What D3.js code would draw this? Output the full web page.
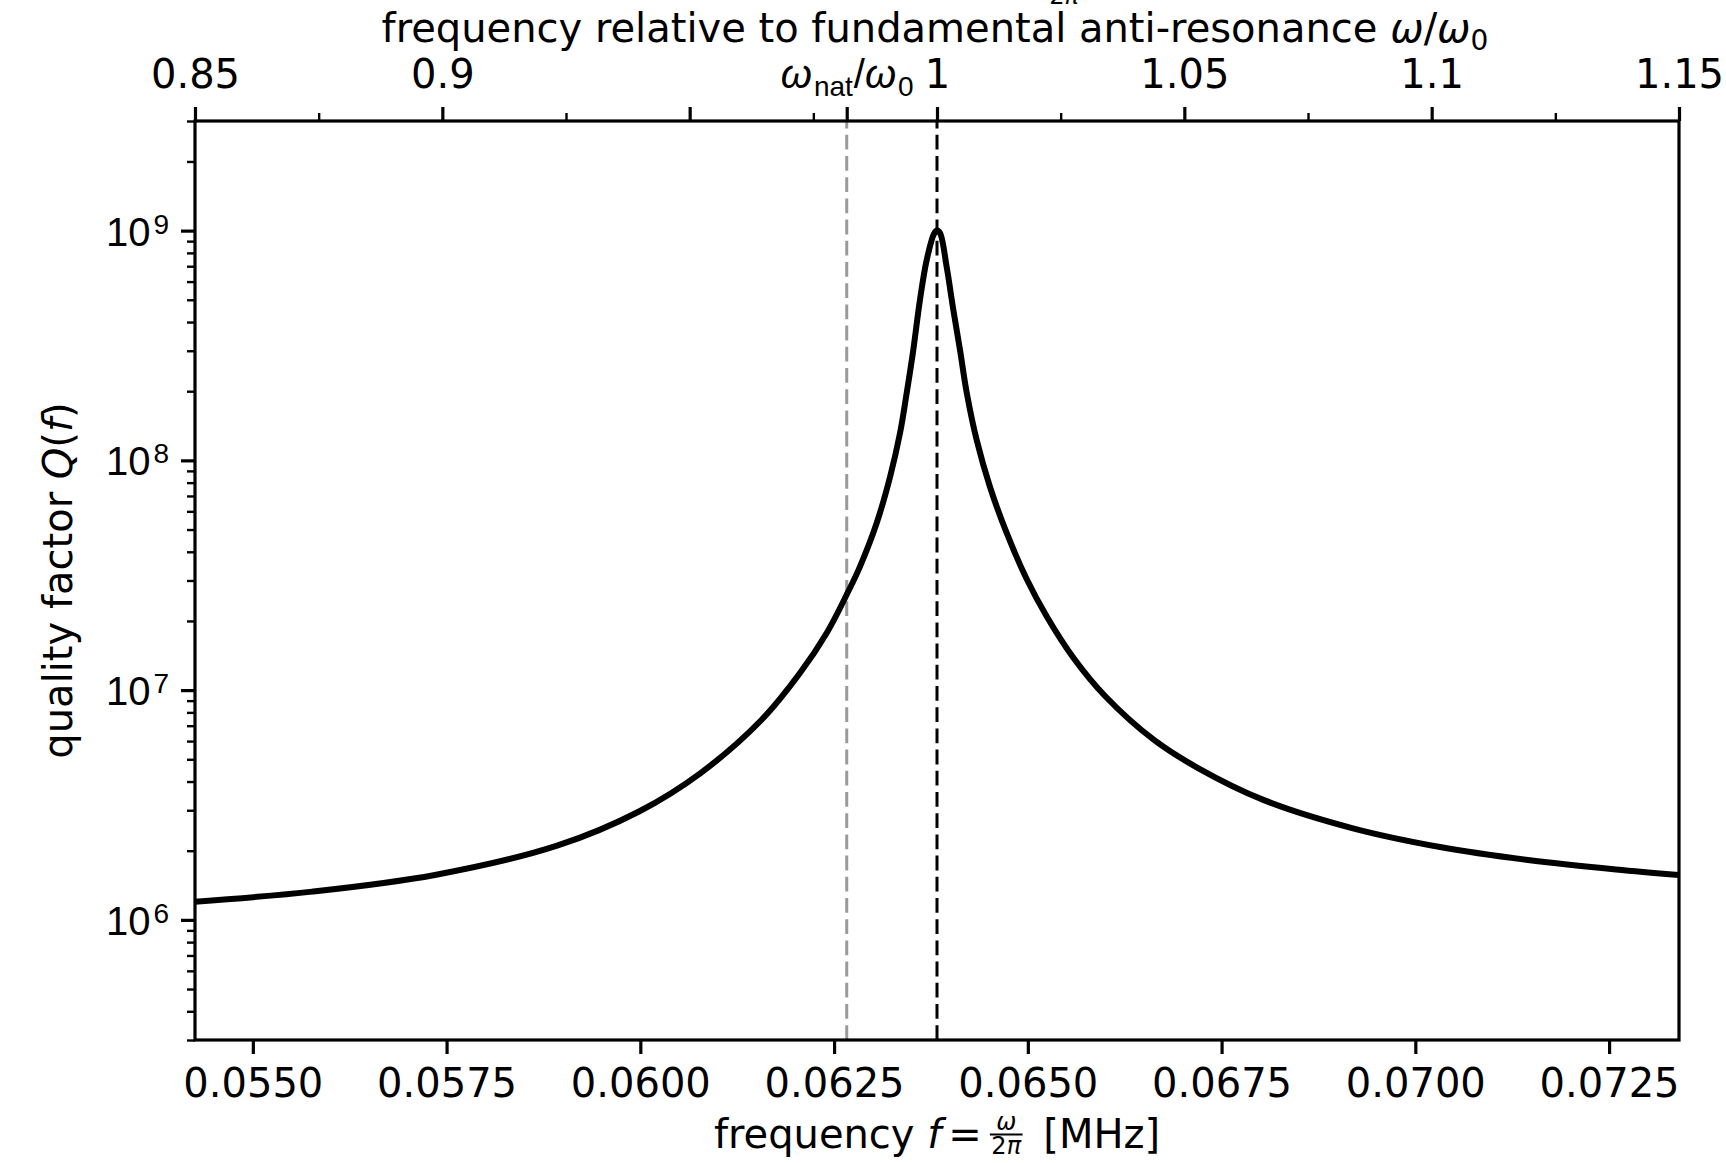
<!DOCTYPE html>
<html>
<head>
<meta charset="utf-8">
<script src="https://cdn.jsdelivr.net/npm/d3@7"></script>
<style>
  html, body { margin: 0; padding: 0; background: #fff; }
  svg { display: block; font-family: "DejaVu Sans", sans-serif; }
</style>
</head>
<body>
<svg id="chart" width="1726" height="1163"></svg>
<script>
// Quality factor of the resonator around its fundamental anti-resonance
const freqMHz = [0.054254, 0.055767, 0.057349, 0.058926, 0.059983, 0.060773, 0.061562, 0.062060,
                 0.062405, 0.062662, 0.062834, 0.063050, 0.063222, 0.063351, 0.063437, 0.063522,
                 0.063608, 0.063695, 0.063790, 0.063828, 0.063867, 0.063953, 0.064039, 0.064125,
                 0.064211, 0.064340, 0.064512, 0.064727, 0.064985, 0.065248, 0.065590, 0.065996,
                 0.066628, 0.067196, 0.068047, 0.069183, 0.070318, 0.071454, 0.072589, 0.073402];
const qualityFactor = [1.20e6, 1.327e6, 1.568e6, 2.103e6, 2.963e6, 4.344e6, 7.41e6, 1.187e7,
                       1.773e7, 2.60e7, 3.45e7, 5.34e7, 8.47e7, 1.315e8, 1.965e8, 3.023e8,
                       4.99e8, 7.45e8, 9.7e8, 1.0e9, 9.76e8, 6.94e8, 4.51e8, 3.02e8,
                       1.975e8, 1.226e8, 7.66e7, 4.83e7, 3.045e7, 2.081e7, 1.380e7, 9.43e6,
                       6.07e6, 4.58e6, 3.32e6, 2.51e6, 2.076e6, 1.822e6, 1.657e6, 1.568e6];

// fundamental anti-resonance f0 = ω0/2π and natural frequency ratio ω_nat/ω0
const f0MHz = 0.063828;
const naturalRatio = 0.98175;

const ratioDomain = [0.85, 1.15];
const qDomain = [3e5, 3e9];
const bottomTicks = [0.0550, 0.0575, 0.0600, 0.0625, 0.0650, 0.0675, 0.0700, 0.0725];
const topTicks = [0.85, 0.9, 0.95, 1, 1.05, 1.1, 1.15];
const topTickLabels = ["0.85", "0.9", "", "1", "1.05", "1.1", "1.15"];
const topMinorTicks = [0.875, 0.925, 0.975, 1.025, 1.075, 1.125];
const leftMajorTicks = [1e6, 1e7, 1e8, 1e9];
const leftExponents = ["6", "7", "8", "9"];

const plot = { left: 195, top: 121, right: 1679, bottom: 1040 };
const FS = 40, FS_SUB = 28, FS_FRAC = 24;
const MAJOR = 14, MINOR = 8;

const svg = d3.select("#chart");

const x = d3.scaleLinear().domain(ratioDomain.map(r => r * f0MHz)).range([plot.left, plot.right]);
const xr = d3.scaleLinear().domain(ratioDomain).range([plot.left, plot.right]);
const y = d3.scaleLog().domain(qDomain).range([plot.bottom, plot.top]);

svg.append("clipPath").attr("id", "plotClip")
  .append("rect").attr("x", plot.left).attr("y", plot.top)
  .attr("width", plot.right - plot.left).attr("height", plot.bottom - plot.top);

// reference lines: natural frequency (grey) and anti-resonance (black)
const refs = [{ r: naturalRatio, c: "#9a9a9a" }, { r: 1, c: "#000" }];
svg.append("g").selectAll("line").data(refs).join("line")
  .attr("x1", d => xr(d.r)).attr("x2", d => xr(d.r))
  .attr("y1", plot.bottom).attr("y2", plot.top)
  .attr("stroke", d => d.c).attr("stroke-width", 3)
  .attr("stroke-dasharray", "14.8,6.4");

// Q(f) curve
const pts = freqMHz.map((f, i) => [f, qualityFactor[i]]);
const line = d3.line().x(d => x(d[0])).y(d => y(d[1])).curve(d3.curveCatmullRom.alpha(0.5));
svg.append("path").datum(pts)
  .attr("clip-path", "url(#plotClip)")
  .attr("d", line).attr("fill", "none")
  .attr("stroke", "#000").attr("stroke-width", 6)
  .attr("stroke-linejoin", "round");

function styleAxis(g, w) {
  g.select(".domain").remove();
  g.selectAll(".tick line").attr("stroke", "#000").attr("stroke-width", w);
  g.selectAll(".tick text").attr("fill", "#000").attr("font-size", FS)
    .attr("font-family", "DejaVu Sans");
}

// bottom axis
const gB = svg.append("g").attr("transform", `translate(0,${plot.bottom})`)
  .call(d3.axisBottom(x).tickValues(bottomTicks).tickFormat(d3.format(".4f")).tickSize(MAJOR));
styleAxis(gB, 3.2);
gB.selectAll(".tick text").attr("y", 57).attr("dy", null);

// top axis: major, natural-frequency tick, minor
const gT = svg.append("g").attr("transform", `translate(0,${plot.top})`)
  .call(d3.axisTop(xr).tickValues(topTicks).tickFormat((d, i) => topTickLabels[i]).tickSize(MAJOR));
styleAxis(gT, 3.2);
gT.selectAll(".tick text").attr("y", -33).attr("dy", null);

const gTn = svg.append("g").attr("transform", `translate(0,${plot.top})`)
  .call(d3.axisTop(xr).tickValues([naturalRatio]).tickFormat("").tickSize(MAJOR));
styleAxis(gTn, 3.2);
const natLabel = gTn.select(".tick").append("text")
  .attr("y", -33).attr("text-anchor", "middle").attr("font-size", FS).attr("fill", "#000");
natLabel.append("tspan").attr("font-style", "italic").text("ω");
natLabel.append("tspan").attr("font-size", FS_SUB).attr("dx", 2).attr("dy", 8).text("nat");
natLabel.append("tspan").attr("dx", 1).attr("dy", -8).text("/");
natLabel.append("tspan").attr("font-style", "italic").text("ω");
natLabel.append("tspan").attr("font-size", FS_SUB).attr("dx", 2).attr("dy", 8).text("0");

const gTm = svg.append("g").attr("transform", `translate(0,${plot.top})`)
  .call(d3.axisTop(xr).tickValues(topMinorTicks).tickFormat("").tickSize(MINOR));
styleAxis(gTm, 2.4);

// left axis: minor ticks and major ticks with powers of ten
const minorQ = [];
for (let e = 5; e <= 9; e++) for (let k = 2; k <= 9; k++) {
  const v = k * Math.pow(10, e);
  if (v >= qDomain[0] && v <= qDomain[1]) minorQ.push(v);
}
const gLm = svg.append("g").attr("transform", `translate(${plot.left},0)`)
  .call(d3.axisLeft(y).tickValues(minorQ).tickFormat("").tickSize(MINOR));
styleAxis(gLm, 2.4);
const gL = svg.append("g").attr("transform", `translate(${plot.left},0)`)
  .call(d3.axisLeft(y).tickValues(leftMajorTicks).tickFormat("").tickSize(MAJOR));
styleAxis(gL, 3.2);
gL.selectAll(".tick").each(function (d, i) {
  const t = d3.select(this).append("text")
    .attr("x", -26).attr("y", 14.5).attr("text-anchor", "end")
    .attr("font-size", FS).attr("fill", "#000");
  t.append("tspan").text("10");
  t.append("tspan").attr("font-size", FS_SUB).attr("dx", 3).attr("dy", -12).text(leftExponents[i]);
});

// frame
svg.append("rect").attr("x", plot.left).attr("y", plot.top)
  .attr("width", plot.right - plot.left).attr("height", plot.bottom - plot.top)
  .attr("fill", "none").attr("stroke", "#000").attr("stroke-width", 3.2);

// axis titles
const cx = (plot.left + plot.right) / 2;

const topTitle = svg.append("text").attr("x", cx - 2).attr("y", 42)
  .attr("text-anchor", "middle").attr("font-size", FS).attr("fill", "#000");
topTitle.append("tspan").text("frequency relative to fundamental anti-resonance ");
topTitle.append("tspan").attr("font-style", "italic").text("ω");
topTitle.append("tspan").text("/");
topTitle.append("tspan").attr("font-style", "italic").text("ω");
topTitle.append("tspan").attr("font-size", FS_SUB).attr("dy", 8).text("0");

// denominator of the figure heading above the top edge
const frag = svg.append("text").attr("x", 1064).attr("y", 3.5)
  .attr("text-anchor", "middle").attr("font-size", FS_FRAC).attr("fill", "#000");
frag.append("tspan").text("2");
frag.append("tspan").attr("font-style", "italic").text("π");

const yTitle = svg.append("text")
  .attr("transform", `translate(72,${(plot.top + plot.bottom) / 2}) rotate(-90)`)
  .attr("text-anchor", "middle").attr("font-size", FS).attr("fill", "#000");
yTitle.append("tspan").text("quality factor ");
yTitle.append("tspan").attr("font-style", "italic").text("Q");
yTitle.append("tspan").text("(");
yTitle.append("tspan").attr("font-style", "italic").text("f");
yTitle.append("tspan").text(")");

// bottom title with fraction ω / 2π
const base = 1148;
const gX = svg.append("g");
const part1 = gX.append("text").attr("x", 0).attr("y", base).attr("font-size", FS).attr("fill", "#000");
part1.append("tspan").text("frequency ");
part1.append("tspan").attr("font-style", "italic").text("f");
part1.append("tspan").attr("dx", 7).text("=");
let cursor = part1.node().getComputedTextLength() + 7 + 8;
const den = gX.append("text").attr("y", base + 6).attr("font-size", FS_FRAC)
  .attr("text-anchor", "middle").attr("fill", "#000");
den.append("tspan").text("2");
den.append("tspan").attr("font-style", "italic").text("π");
const fracW = den.node().getComputedTextLength() + 3;
den.attr("x", cursor + fracW / 2);
gX.append("text").attr("x", cursor + fracW / 2).attr("y", base - 18)
  .attr("text-anchor", "middle").attr("font-size", FS_FRAC).attr("font-style", "italic")
  .attr("fill", "#000").text("ω");
gX.append("line").attr("x1", cursor).attr("x2", cursor + fracW)
  .attr("y1", base - 13.5).attr("y2", base - 13.5).attr("stroke", "#000").attr("stroke-width", 1.8);
cursor += fracW + 8;
const part3 = gX.append("text").attr("x", cursor).attr("y", base).attr("font-size", FS)
  .attr("fill", "#000").text("\u00a0[MHz]");
const totalW = cursor + part3.node().getComputedTextLength();
gX.attr("transform", `translate(${cx - totalW / 2},0)`);
</script>
</body>
</html>
